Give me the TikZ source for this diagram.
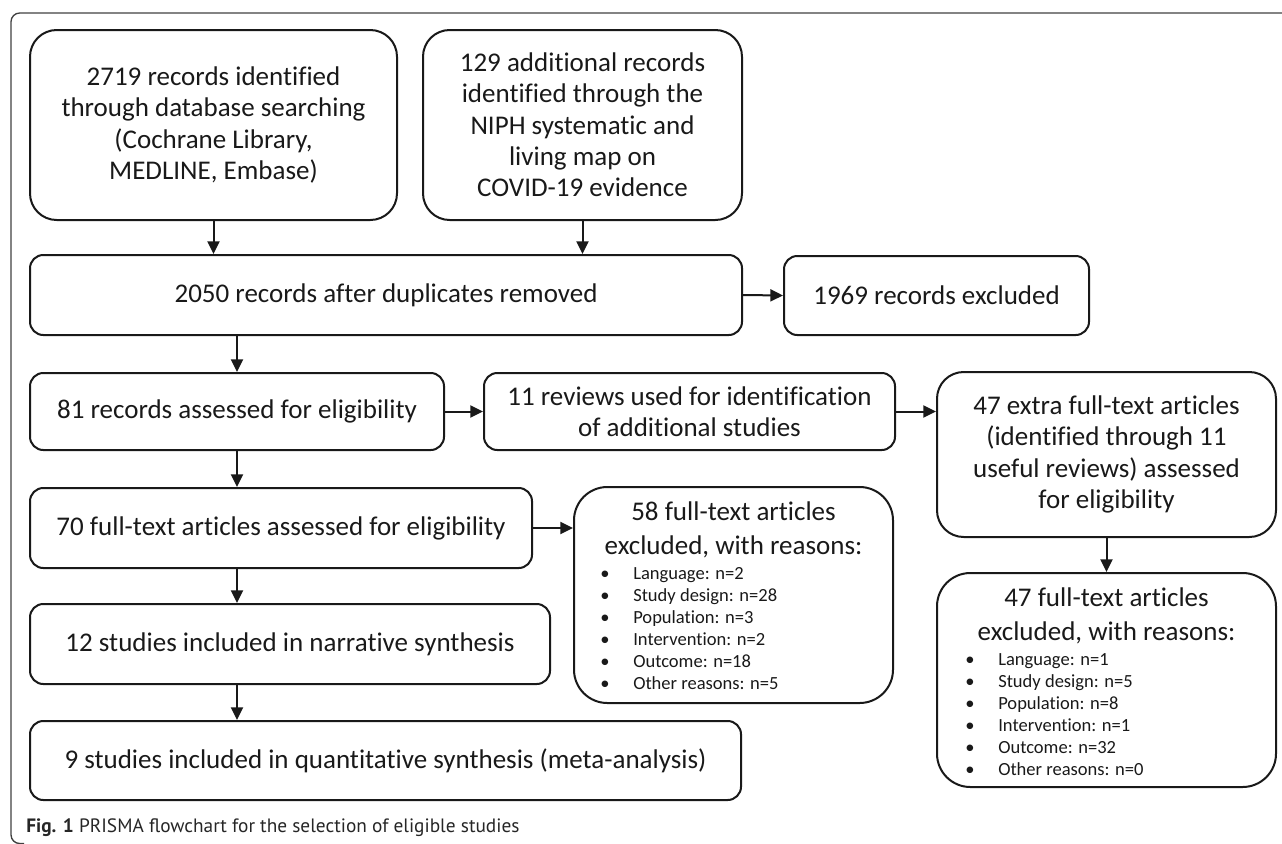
\documentclass[tikz,border=0pt]{standalone}
\usepackage{fontspec}
\setmainfont{Carlito}[Ligatures={NoCommon}]
\newfontfamily\capfont{PT Sans}
\usetikzlibrary{arrows.meta}
\newcommand{\mainsz}{\fontsize{20.25pt}{23.5pt}\selectfont}
\newcommand{\titsz}{\fontsize{20.25pt}{25.5pt}\selectfont}
\newcommand{\listsz}{\fontsize{13.9pt}{16.5pt}\selectfont}
\begin{document}
\begin{tikzpicture}[x=0.75pt,y=-0.75pt,
  box/.style={draw=black!90, line width=1.5pt, inner sep=0pt, align=center, font=\mainsz, text=black!90},
  rs/.style={rounded corners=10pt},
  rm/.style={rounded corners=20pt},
  rl/.style={rounded corners=25pt},
  arr/.style={draw=black!90, line width=1.5pt, -{Triangle[length=9.5pt,width=9pt]}},
  frame/.style={draw=black!75, line width=1pt, rounded corners=6.5pt},
  lst/.style={inner sep=0pt, font=\listsz, text=black!90, anchor=base west},
  tit/.style={inner sep=0pt, align=center, font=\titsz, text=black!90}
]
\useasboundingbox (0,0) rectangle (1282,843);
\draw[frame] (1300,13) -- (11,13) -- (11,843.5) -- (24,843.5);

\node[box, rm, minimum width=275.25pt, minimum height=142.5pt] (b1) at (213.5,125) {2719 records identified\\through database searching\\(Cochrane Library,\\MEDLINE, Embase)};
\node[box, rm, minimum width=239.25pt, minimum height=142.5pt] (b2) at (582.5,125) {129 additional records\\identified through the\\NIPH systematic and\\living map on\\COVID-19 evidence};
\node[box, rs, minimum width=534pt, minimum height=60pt] (b3) at (386,295) {2050 records after duplicates removed};
\node[box, rs, minimum width=228.75pt, minimum height=59.25pt] (b4) at (936.5,295.5) {1969 records excluded};
\node[box, rs, minimum width=310.5pt, minimum height=57.75pt] (b5) at (237,411.5) {81 records assessed for eligibility};
\node[box, rs, minimum width=308.25pt, minimum height=57.75pt] (b6) at (689.5,411.5) {11 reviews used for identification\\of additional studies};
\node[box, rm, minimum width=254.25pt, minimum height=123.75pt] (b7) at (1106.5,454.5) {47 extra full-text articles\\(identified through 11\\useful reviews) assessed\\for eligibility};
\node[box, rs, minimum width=376.5pt, minimum height=60pt] (b8) at (281,528) {70 full-text articles assessed for eligibility};
\node[box, rl, minimum width=239.25pt, minimum height=162pt] (b9) at (733.5,595) {};
\node[box, rs, minimum width=390pt, minimum height=60pt] (b10) at (290,644) {12 studies included in narrative synthesis};
\node[box, rl, minimum width=254.25pt, minimum height=160.5pt] (b11) at (1106.5,680) {};
\node[box, rs, minimum width=533.25pt, minimum height=59.25pt] (b12) at (385.5,760.5) {9 studies included in quantitative synthesis (meta-analysis)};

\node[tit] (t9) at (733.5,530) {58 full-text articles\\excluded, with reasons:};
\node[lst] (l9) at (600,579) {\begin{tabular}[t]{@{}p{24.75pt}@{}l@{}}
\textbullet & Language: n=2\\
\textbullet & Study design: n=28\\
\textbullet & Population: n=3\\
\textbullet & Intervention: n=2\\
\textbullet & Outcome: n=18\\
\textbullet & Other reasons: n=5
\end{tabular}};

\node[tit] (t11) at (1106.5,615.5) {47 full-text articles\\excluded, with reasons:};
\node[lst] (l11) at (965,665) {\begin{tabular}[t]{@{}p{24.75pt}@{}l@{}}
\textbullet & Language: n=1\\
\textbullet & Study design: n=5\\
\textbullet & Population: n=8\\
\textbullet & Intervention: n=1\\
\textbullet & Outcome: n=32\\
\textbullet & Other reasons: n=0
\end{tabular}};

\coordinate (lx) at (237,0);
\draw[arr] (b1.south) -- (b1.south |- b3.north);
\draw[arr] (b2.south) -- (b2.south |- b3.north);
\draw[arr] (b3.east) -- (b4.west);
\draw[arr] (lx |- b3.south) -- (lx |- b5.north);
\draw[arr] (b5.east) -- (b6.west);
\draw[arr] (b6.east) -- (b6.east -| b7.west);
\draw[arr] (lx |- b5.south) -- (lx |- b8.north);
\draw[arr] (b8.east) -- (b8.east -| b9.west);
\draw[arr] (b7.south) -- (b7.south |- b11.north);
\draw[arr] (lx |- b8.south) -- (lx |- b10.north);
\draw[arr] (lx |- b10.south) -- (lx |- b12.north);

\node[anchor=base west, inner sep=0pt, font=\capfont\fontsize{14.5pt}{16pt}\selectfont, text=black!85] (cap) at (26,832) {\textbf{Fig. 1} PRISMA flowchart for the selection of eligible studies};
\end{tikzpicture}
\end{document}
